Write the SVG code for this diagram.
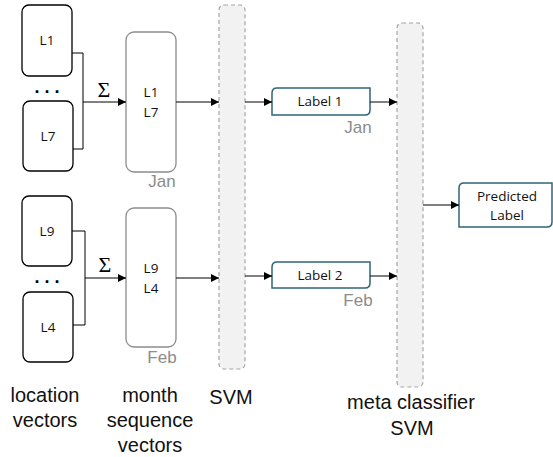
<svg xmlns="http://www.w3.org/2000/svg" width="553" height="457" viewBox="0 0 553 457">
<defs>
<marker id="arr" viewBox="0 0 10 10" refX="10" refY="5" markerWidth="9" markerHeight="8" markerUnits="userSpaceOnUse" orient="auto">
<path d="M0,0 L10,5 L0,10 Z" fill="#000"/>
</marker>
<style>
.loc{fill:#fff;stroke:#000;stroke-width:1.3}
.mon{fill:#fff;stroke:#8c8c8c;stroke-width:1.3}
.bar{fill:#f2f2f2;stroke:#a6a6a6;stroke-width:1.2;stroke-dasharray:4 3}
.lab{fill:#fff;stroke:#2f6579;stroke-width:1.5}
.bt{font-family:"Open Sans","Noto Sans",sans-serif;font-size:13.5px;fill:#111;text-anchor:middle}
.gm{font-family:"Liberation Sans",Arial,sans-serif;font-size:17px;fill:#8c8c8c;text-anchor:middle}
.cap{font-family:"Liberation Sans",Arial,sans-serif;font-size:20px;fill:#111;text-anchor:middle}
.sig{font-family:"Liberation Serif","Times New Roman",serif;font-size:22px;fill:#000;text-anchor:middle}
.dots{font-family:"Liberation Sans",Arial,sans-serif;font-size:18px;font-weight:bold;fill:#000;text-anchor:middle}
.c{fill:none;stroke:#000;stroke-width:1}
.ca{fill:none;stroke:#000;stroke-width:1;marker-end:url(#arr)}
</style>
</defs>

<g id="loc-L1"><rect class="loc" x="22" y="5" width="50" height="71" rx="7"/><text class="bt" x="47" y="45">L1</text></g>
<g id="dots-top"><text class="dots" x="47" y="93">. . .</text></g>
<g id="loc-L7"><rect class="loc" x="23" y="101" width="50" height="70" rx="7"/><text class="bt" x="48" y="141">L7</text></g>

<g id="loc-L9"><rect class="loc" x="22" y="196" width="50" height="70" rx="7"/><text class="bt" x="47" y="236">L9</text></g>
<g id="dots-bot"><text class="dots" x="47" y="283">. . .</text></g>
<g id="loc-L4"><rect class="loc" x="23" y="292" width="50" height="70" rx="7"/><text class="bt" x="48" y="332">L4</text></g>

<g id="month-jan"><rect class="mon" x="126" y="32" width="50" height="140" rx="8"/><text class="bt" x="151" y="97">L1</text><text class="bt" x="151" y="117">L7</text><text class="gm" x="162" y="187">Jan</text></g>
<g id="month-feb"><rect class="mon" x="126" y="208" width="50" height="139" rx="8"/><text class="bt" x="151" y="273">L9</text><text class="bt" x="151" y="293">L4</text><text class="gm" x="162" y="363">Feb</text></g>

<g id="svm"><rect class="bar" x="219" y="5" width="26" height="364" rx="5"/></g>
<g id="meta-svm"><rect class="bar" x="397" y="23" width="26" height="364" rx="5"/></g>

<g id="label1"><path class="lab" d="M277,88 H370 V110 Q370,115 365,115 H272 V93 Q272,88 277,88 Z"/><text class="bt" x="320" y="106">Label 1</text><text class="gm" x="358" y="133">Jan</text></g>
<g id="label2"><path class="lab" d="M277,262 H370 V283 Q370,288 365,288 H272 V267 Q272,262 277,262 Z"/><text class="bt" x="320" y="280">Label 2</text><text class="gm" x="358" y="306">Feb</text></g>

<g id="predicted"><path class="lab" d="M464,183 H552 V222 Q552,227 547,227 H459 V188 Q459,183 464,183 Z"/><text class="bt" x="507" y="201">Predicted</text><text class="bt" x="507" y="220">Label</text></g>

<g id="connectors">
<path class="c" d="M72,53 H83 V149 H73"/>
<path class="ca" d="M83,102 H126"/>
<path class="c" d="M72,231 H85 V325 H73"/>
<path class="ca" d="M85,278 H126"/>
<path class="ca" d="M176,102 H219"/>
<path class="ca" d="M176,278 H219"/>
<path class="ca" d="M245,102 H272"/>
<path class="ca" d="M245,276 H272"/>
<path class="ca" d="M370,102 H397"/>
<path class="ca" d="M370,276 H397"/>
<path class="ca" d="M423,205 H459"/>
</g>

<g id="sigmas"><text class="sig" x="104" y="97">Σ</text><text class="sig" x="105" y="272">Σ</text></g>

<g id="captions">
<text class="cap" x="45" y="402">location</text>
<text class="cap" x="45" y="427">vectors</text>
<text class="cap" x="150" y="402">month</text>
<text class="cap" x="150" y="427">sequence</text>
<text class="cap" x="150" y="452">vectors</text>
<text class="cap" x="231" y="404">SVM</text>
<text class="cap" x="411" y="409">meta classifier</text>
<text class="cap" x="412" y="435">SVM</text>
</g>
</svg>
